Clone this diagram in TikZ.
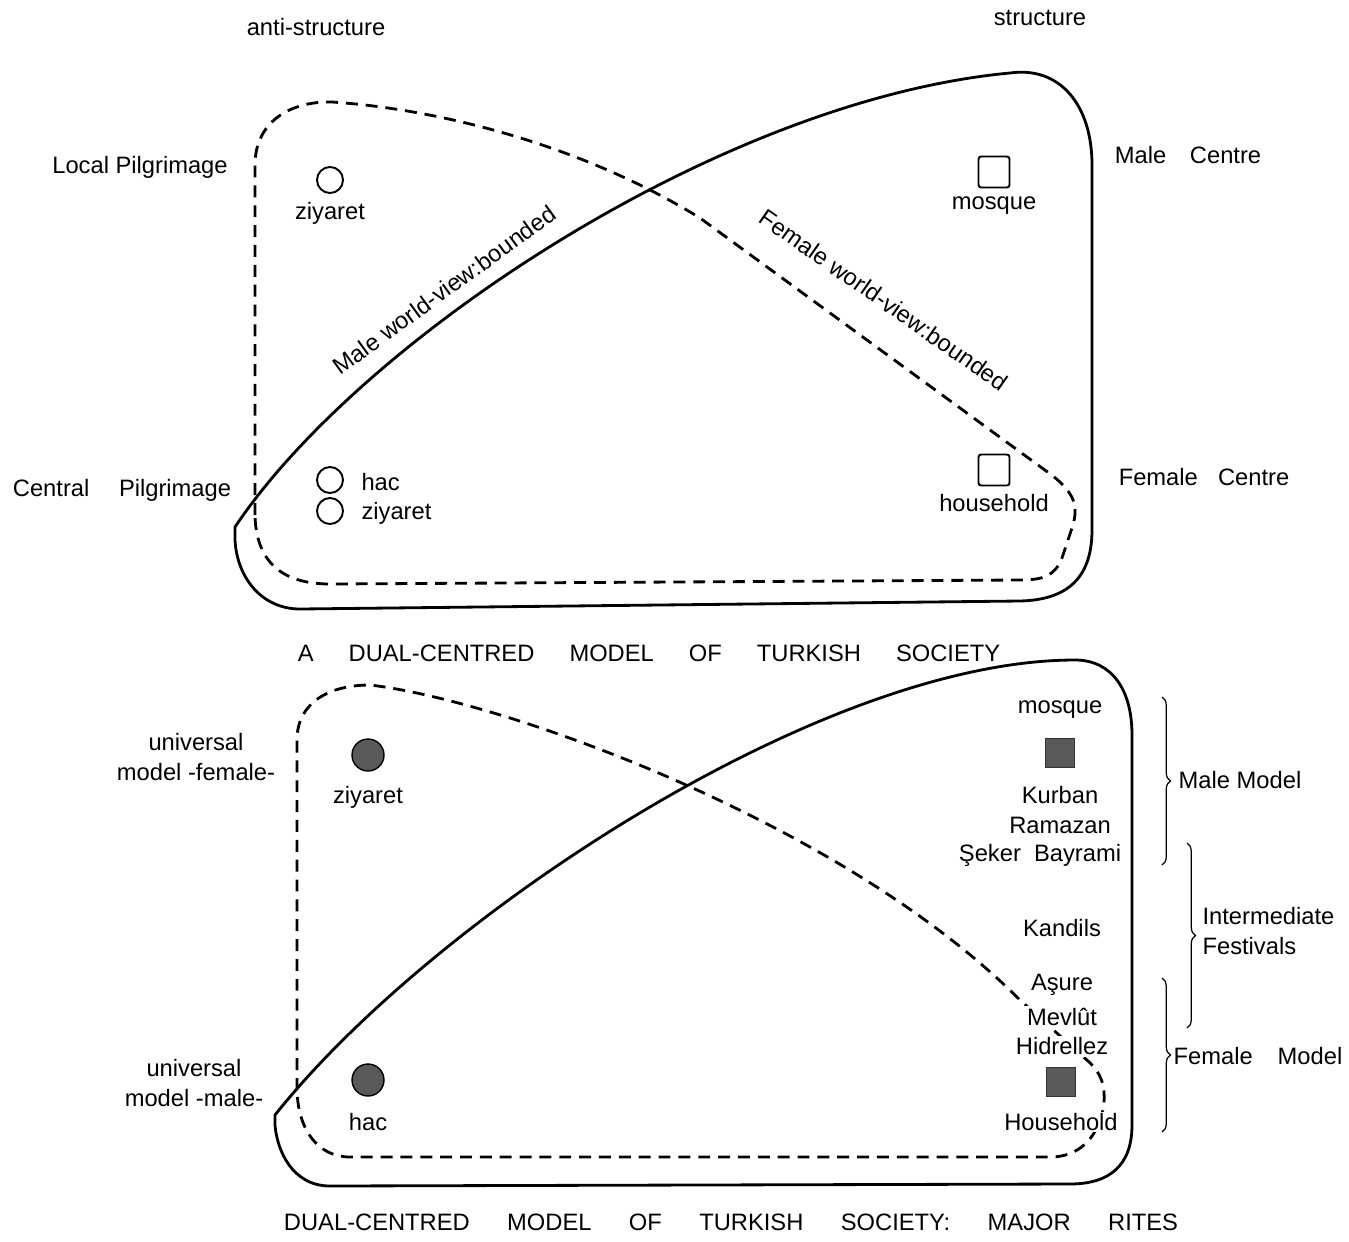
\documentclass[tikz,border=0pt]{standalone}
\usepackage{fontspec}
\setmainfont{Liberation Sans}
\usepackage{tikz}
\usetikzlibrary{decorations.pathreplacing,positioning}

\begin{document}
\begin{tikzpicture}[x=0.02cm,y=-0.02cm,thick,node distance=0.67cm]
    \tikzstyle{every node}=[font=\fontsize{13.5}{17}\selectfont]
    \tikzstyle{wall}=[line width=1.6pt, line join=round]
    \tikzstyle{fence}=[line width=1.6pt, dash pattern=on 6.8pt off 4.5pt]
    \tikzstyle{site}=[circle, draw, line width=1.1pt, minimum size=0.52cm, inner sep=0pt]
    \tikzstyle{centre}=[rectangle, draw, rounded corners=1.5pt, line width=1.1pt, minimum size=0.62cm, inner sep=0pt]
    \tikzstyle{dotsite}=[circle, draw, fill=black!65, line width=0.8pt, minimum size=0.64cm, inner sep=0pt]
    \tikzstyle{dotcentre}=[rectangle, draw=black!80, fill=black!65, minimum size=0.58cm, inner sep=0pt]
    \tikzstyle{rite}=[fill=white, inner sep=1pt]
    \tikzstyle{bracket}=[decorate, decoration={brace, amplitude=0.17cm}, line width=0.7pt]

    \useasboundingbox (0,0) rectangle (1349,1241);

    \node (anti) at (316,27) {anti-structure};
    \node (struct) at (1040,18) {structure};

    % dual-centred model
    \draw[wall] (235,527) .. controls (360,340) and (720,100) .. (1010,73)
        .. controls (1060,66) and (1092,105) .. (1092,165) -- (1092,530)
        .. controls (1092,580) and (1065,600) .. (1020,601) -- (300,609)
        .. controls (262,609) and (237,578) .. (235,540) -- cycle;
    \draw[fence] (255,515) -- (255,165) .. controls (255,122) and (290,101) .. (332,102)
        .. controls (450,110) and (590,150) .. (700,218) -- (1053,476)
        .. controls (1075,494) and (1078,506) .. (1073,525) -- (1062,558)
        .. controls (1055,575) and (1045,580) .. (1020,580) -- (330,584)
        .. controls (280,584) and (256,560) .. (255,515) -- cycle;

    \node (lp) at (140,167) {Local Pilgrimage};
    \node (mc) at (1188,155) {Male\hspace{1em}Centre};
    \node (cp) at (122,490) {Central\hspace{1.25em}Pilgrimage};
    \node (fc) at (1204,477) {Female\hspace{0.85em}Centre};

    \node[site]   (1) at (330,180) {};
    \node         (1l) [below of=1] {ziyaret};
    \node[centre] (2) at (994,172) {};
    \node         (2l) [below of=2] {mosque};
    \node[site]   (3) at (330,480) {};
    \node[site]   (4) at (330,511) {};
    \node[anchor=west] (3l) at (355,482) {hac};
    \node[anchor=west] (4l) at (355,513) {ziyaret};
    \node[centre] (5) at (994,470) {};
    \node         (5l) [below of=5] {household};

    \node[rotate=36]  (mw) at (444,290) {Male world-view:bounded};
    \node[rotate=-35] (fw) at (884,300) {Female world-view:bounded};

    \node (capA) at (649,653) {A\hspace{1.2em} DUAL-CENTRED\hspace{1.2em} MODEL\hspace{1.2em} OF\hspace{1.2em} TURKISH\hspace{1.2em} SOCIETY};

    % major rites
    \draw[wall] (275,1115) .. controls (430,920) and (820,660) .. (1075,660)
        .. controls (1112,660) and (1132,690) .. (1132,735) -- (1132,1125)
        .. controls (1132,1165) and (1110,1184) .. (1070,1184) -- (330,1186)
        .. controls (292,1186) and (277,1150) .. (275,1125) -- cycle;
    \draw[fence] (297,1090) -- (297,740) .. controls (297,702) and (330,685) .. (370,685)
        .. controls (500,700) and (840,820) .. (1020,1000) -- (1088,1061)
        .. controls (1102,1074) and (1105,1086) .. (1104,1102)
        .. controls (1102,1125) and (1088,1157) .. (1050,1157) -- (350,1157)
        .. controls (318,1157) and (298,1130) .. (297,1090) -- cycle;

    \node[align=center] (uf) at (196,757) {universal\\model -female-};
    \node[align=center] (um) at (194,1083) {universal\\model -male-};

    \node[dotsite] (6) at (368,755) {};
    \node          (6l) [below of=6, node distance=0.84cm] {ziyaret};
    \node[dotsite] (7) at (368,1080) {};
    \node          (7l) [below of=7, node distance=0.84cm] {hac};

    \node[rite]      (8l) at (1060,710) {mosque};
    \node[dotcentre] (8) [below of=8l, node distance=0.86cm] {};
    \node[rite] (r1) at (1060,795) {Kurban};
    \node[rite] (r2) [below of=r1, node distance=0.6cm] {Ramazan};
    \node[rite] (r3) at (1040,855) {Şeker\ \ Bayrami};
    \node[rite] (r4) at (1062,928) {Kandils};
    \node[rite] (r5) at (1062,985) {Aşure};
    \node[rite] (r6) [below of=r5, node distance=0.63cm] {Mevlût};
    \node[rite] (r7) [below of=r6, node distance=0.6cm] {Hidrellez};
    \node[dotcentre] (9) at (1061,1082) {};
    \node[rite] (9l) [below of=9, node distance=0.8cm] {Household};

    \draw[bracket] (1162,697) -- (1162,865);
    \draw[bracket] (1187,843) -- (1187,1028);
    \draw[bracket] (1162,978) -- (1162,1132);
    \node (mm) at (1240,780) {Male Model};
    \node[align=left, anchor=west] (ifest) at (1196,931) {Intermediate\\Festivals};
    \node (fm) at (1258,1056) {Female\hspace{1.05em}Model};

    \node (capB) at (731,1222) {DUAL-CENTRED\hspace{1.3em} MODEL\hspace{1.3em} OF\hspace{1.3em} TURKISH\hspace{1.3em} SOCIETY:\hspace{1.3em} MAJOR\hspace{1.3em} RITES};
\end{tikzpicture}
\end{document}
